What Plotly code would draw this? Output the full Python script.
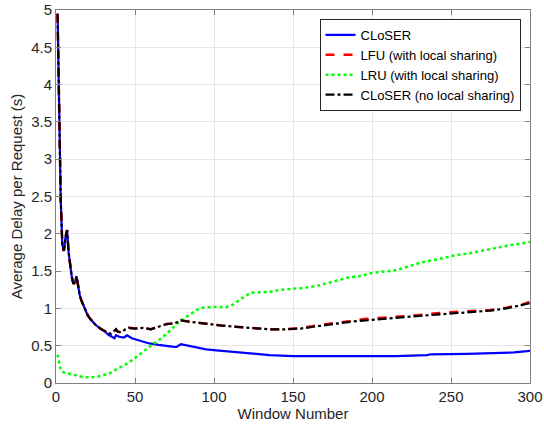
import plotly.graph_objects as go

# Shared early part (all CLoSER/LFU curves coincide)
w_early = [1, 2, 3, 4, 5, 6, 7, 8, 9, 10, 11, 12, 13, 14, 15, 16, 18, 20, 22, 25, 28, 31]
v_early = [4.95, 3.7, 2.45, 1.85, 1.77, 1.95, 2.05, 1.75, 1.56, 1.42, 1.33, 1.35, 1.43, 1.27,
           1.18, 1.11, 1.00, 0.91, 0.85, 0.78, 0.73, 0.69]

# CLoSER
w_closer = w_early + [33, 36, 37, 38, 40, 43, 45, 48, 51, 55, 59, 65, 70, 76, 79, 85, 95, 105,
                      116, 125, 135, 150, 175, 200, 215, 235, 237, 260, 275, 290, 300]
v_closer = v_early + [0.65, 0.61, 0.60, 0.64, 0.62, 0.61, 0.64, 0.60, 0.58, 0.555, 0.53, 0.51,
                      0.50, 0.48, 0.52, 0.49, 0.45, 0.43, 0.41, 0.39, 0.375, 0.36, 0.36, 0.355,
                      0.36, 0.375, 0.385, 0.39, 0.40, 0.41, 0.43]

# CLoSER (no local sharing)
w_mid = [33, 35, 37, 38, 39, 41, 44, 46, 50, 55, 60, 65, 70, 75, 79, 85, 95, 105, 116, 125, 135, 145]
v_mid = [0.67, 0.66, 0.70, 0.72, 0.69, 0.68, 0.72, 0.74, 0.73, 0.74, 0.72, 0.75, 0.79, 0.80,
         0.84, 0.82, 0.79, 0.77, 0.75, 0.74, 0.72, 0.72]
w_late = [155, 165, 175, 186, 196, 210, 224, 243, 262, 275, 285, 295, 300]
v_nols_late = [0.73, 0.76, 0.79, 0.82, 0.84, 0.86, 0.89, 0.92, 0.95, 0.97, 1.00, 1.04, 1.07]
v_lfu_late = [0.735, 0.77, 0.80, 0.83, 0.86, 0.88, 0.90, 0.94, 0.96, 0.98, 1.01, 1.05, 1.09]

w_nols = w_early + w_mid + w_late
v_nols = v_early + v_mid + v_nols_late
w_lfu = w_early + w_mid + w_late
v_lfu = v_early + v_mid + v_lfu_late

# LRU (with local sharing)
w_lru = [1, 2, 3, 5, 7, 10, 13, 17, 21, 25, 28, 31, 34, 37, 41, 45, 49, 53, 57, 60, 65, 70, 74,
         78, 82, 86, 90, 93, 100, 108, 112, 116, 120, 124, 135, 142, 155, 165, 172, 180, 186,
         192, 201, 215, 226, 232, 242, 252, 262, 271, 280, 288, 300]
v_lru = [0.38, 0.25, 0.17, 0.14, 0.13, 0.11, 0.09, 0.08, 0.075, 0.08, 0.09, 0.11, 0.13, 0.17,
         0.21, 0.26, 0.32, 0.38, 0.45, 0.50, 0.57, 0.66, 0.74, 0.82, 0.88, 0.94, 0.99, 1.01,
         1.02, 1.02, 1.05, 1.11, 1.17, 1.21, 1.22, 1.25, 1.27, 1.30, 1.34, 1.38, 1.42, 1.43,
         1.48, 1.51, 1.58, 1.62, 1.66, 1.71, 1.74, 1.78, 1.82, 1.85, 1.89]

x_ticks = [0, 50, 100, 150, 200, 250, 300]
y_ticks = [0, 0.5, 1, 1.5, 2, 2.5, 3, 3.5, 4, 4.5, 5]
y_ticklabels = ["0", "0.5", "1", "1.5", "2", "2.5", "3", "3.5", "4", "4.5", "5"]

fig = go.Figure()
fig.add_trace(go.Scatter(x=w_closer, y=v_closer, mode="lines", name="CLoSER",
                         line=dict(color="#0000FF", width=2.2)))
fig.add_trace(go.Scatter(x=w_lfu, y=v_lfu, mode="lines", name="LFU (with local sharing)",
                         line=dict(color="#FF0000", width=2.5, dash="dash")))
fig.add_trace(go.Scatter(x=w_lru, y=v_lru, mode="lines", name="LRU (with local sharing)",
                         line=dict(color="#00FF00", width=2.5, dash="dot")))
fig.add_trace(go.Scatter(x=w_nols, y=v_nols, mode="lines", name="CLoSER (no local sharing)",
                         line=dict(color="#000000", width=2.2, dash="dashdot")))

axis_common = dict(showline=True, linecolor="#808080", linewidth=1, mirror="ticks",
                   ticks="inside", ticklen=5, tickcolor="#808080", automargin=False,
                   showgrid=True, gridcolor="#E6E6E6", gridwidth=1, zeroline=False,
                   tickfont=dict(family="Liberation Sans, Arial", size=15, color="#262626"))

fig.update_layout(
    width=544, height=429,
    margin=dict(l=56, r=14, t=10, b=46, autoexpand=False),
    paper_bgcolor="white", plot_bgcolor="white",
    font=dict(family="Liberation Sans, Arial", color="#262626"),
    showlegend=True,
    legend=dict(x=0.98, y=0.976, xanchor="right", yanchor="top",
                bgcolor="white", bordercolor="#262626", borderwidth=1,
                font=dict(size=13, color="#000000"), tracegroupgap=0,
                itemwidth=30),
    xaxis=dict(range=[0, 300], tickvals=x_ticks,
               title=dict(text="Window Number", font=dict(size=15), standoff=4),
               **axis_common),
    yaxis=dict(range=[0, 5], tickvals=y_ticks, ticktext=y_ticklabels,
               title=dict(text="Average Delay per Request (s)", font=dict(size=15), standoff=4),
               **axis_common),
)

fig.write_html("out.html")
